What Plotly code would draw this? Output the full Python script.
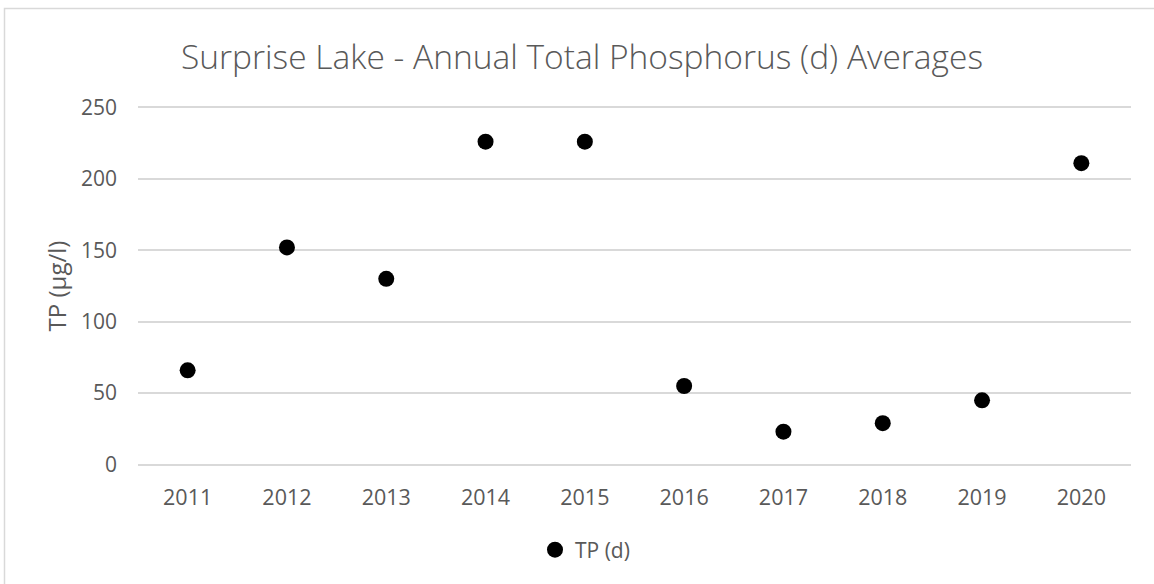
import plotly.graph_objects as go

years = ["2011", "2012", "2013", "2014", "2015", "2016", "2017", "2018", "2019", "2020"]
tp_values = [66, 152, 130, 226, 226, 55, 23, 29, 45, 211]
y_ticks = [0, 50, 100, 150, 200, 250]

W, H = 1154, 584
L, R, T, B = 138, 23, 106, 118
GRAY = "#595959"
FONT = "Open Sans"

fig = go.Figure()
fig.add_trace(go.Scatter(
    x=years, y=tp_values, mode="markers", name="TP (d)",
    marker=dict(color="black", size=16, line=dict(width=0)),
))

pw = W - L - R
ph = H - T - B

fig.update_layout(
    width=W, height=H,
    margin=dict(l=L, r=R, t=T, b=B, pad=0, autoexpand=False),
    paper_bgcolor="white", plot_bgcolor="white",
    font=dict(family=FONT, color=GRAY, size=21),
    title=dict(
        text="Surprise Lake - Annual Total Phosphorus (d) Averages",
        x=582 / W, xanchor="center", y=1 - 57 / H, yanchor="middle",
        font=dict(family=FONT, size=33.5, color=GRAY, weight=300),
    ),
    xaxis=dict(
        type="category", range=[-0.5, len(years) - 0.5],
        showgrid=False, showline=False, zeroline=False,
        ticks="", tickfont=dict(size=21.5, color=GRAY), ticklabelstandoff=16,
        automargin=False,
    ),
    yaxis=dict(
        range=[-1, 251], tickvals=y_ticks, showgrid=True, gridcolor="#d9d9d9",
        gridwidth=1.5, zeroline=False, showline=False, ticks="",
        tickfont=dict(size=21, color=GRAY), ticklabelstandoff=20,
        title=dict(text="TP (µg/l)", font=dict(size=24, color=GRAY), standoff=7),
        automargin=False,
    ),
    showlegend=True,
    legend=dict(
        orientation="h", x=(535 - L) / pw, xanchor="left",
        y=-(550 - (T + ph)) / ph, yanchor="middle",
        font=dict(size=21, color=GRAY), itemwidth=30,
        bgcolor="rgba(0,0,0,0)",
    ),
    shapes=[dict(
        type="rect", xref="paper", yref="paper",
        x0=(4.5 - L) / pw, x1=(W + 10 - L) / pw,
        y0=-(H + 10 - T - ph) / ph, y1=1 + (T - 8.5) / ph,
        line=dict(color="#d9d9d9", width=1.5), fillcolor="rgba(0,0,0,0)", layer="below",
    )],
)

fig.write_html(
    "out.html",
    config={"displayModeBar": False},
    post_script="document.body.style.margin='0';document.body.style.overflow='hidden';",
)
